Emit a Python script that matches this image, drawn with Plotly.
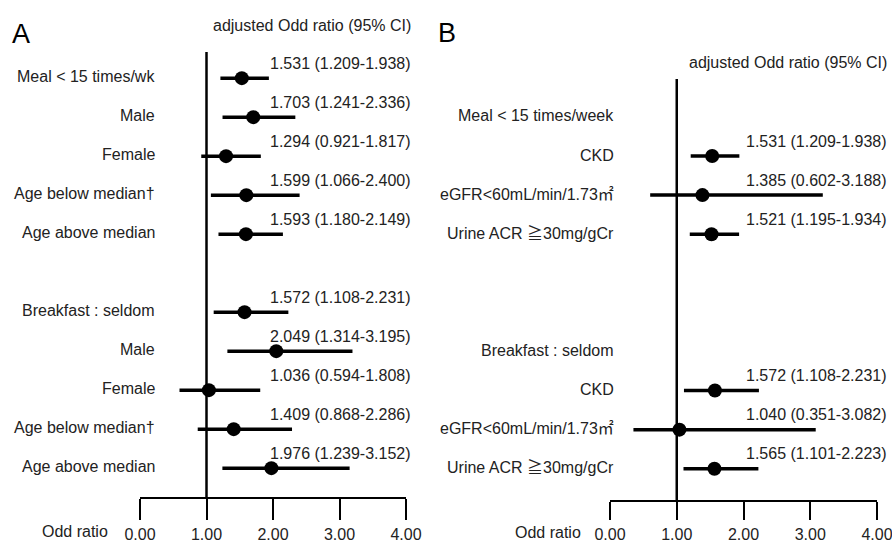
import plotly.graph_objects as go

# ---------------- data ----------------
# Panel A
labels_a = ["Meal < 15 times/wk", "Male", "Female", "Age below median†", "Age above median",
            "Breakfast : seldom", "Male", "Female", "Age below median†", "Age above median"]
or_a = [1.531, 1.703, 1.294, 1.599, 1.593, 1.572, 2.049, 1.036, 1.409, 1.976]
lo_a = [1.209, 1.241, 0.921, 1.066, 1.180, 1.108, 1.314, 0.594, 0.868, 1.239]
hi_a = [1.938, 2.336, 1.817, 2.400, 2.149, 2.231, 3.195, 1.808, 2.286, 3.152]
group_size_a = 5

# Panel B
headers_b = ["Meal < 15 times/week", "Breakfast : seldom"]
labels_b = ["CKD", "eGFR&lt;60mL/min/1.73㎡", "Urine ACR ≧30mg/gCr",
            "CKD", "eGFR&lt;60mL/min/1.73㎡", "Urine ACR ≧30mg/gCr"]
or_b = [1.531, 1.385, 1.521, 1.572, 1.040, 1.565]
lo_b = [1.209, 0.602, 1.195, 1.108, 0.351, 1.101]
hi_b = [1.938, 3.188, 1.934, 2.231, 3.082, 2.223]
group_size_b = 3

tick_vals = [0, 1, 2, 3, 4]
tick_text = ["0.00", "1.00", "2.00", "3.00", "4.00"]
header_text = "adjusted Odd ratio (95% CI)"
axis_title = "Odd ratio"

# ---------------- layout helpers ----------------
W, H = 892, 542
FONT = "Arial, 'Liberation Sans', 'Noto Sans CJK JP', sans-serif"

def px(x):
    return x / W

def py(y):
    return 1 - y / H

# row positions (panel A: one blank row between groups)
rows_a = [i if i < group_size_a else i + 1 for i in range(len(or_a))]
# panel B: header row, 3 items, two blank rows, header row, 3 items
rows_b_hdr = [0, group_size_b + 3]
rows_b = [rows_b_hdr[i // group_size_b] + 1 + (i % group_size_b) for i in range(len(or_b))]

fig = go.Figure()

def add_panel(xa, ya, ors, los, his, rows):
    fig.add_trace(go.Scatter(
        x=ors, y=rows, mode="markers", xaxis=xa, yaxis=ya,
        marker=dict(color="black", size=14),
        error_x=dict(type="data", symmetric=False,
                     array=[h - o for h, o in zip(his, ors)],
                     arrayminus=[o - l for o, l in zip(ors, los)],
                     color="black", thickness=3.5, width=0),
        showlegend=False, hoverinfo="skip", cliponaxis=False))

add_panel("x", "y", or_a, lo_a, hi_a, rows_a)
add_panel("x2", "y2", or_b, lo_b, hi_b, rows_b)

axis_common = dict(range=[0, 4], showgrid=False, zeroline=False, showline=True,
                   linecolor="black", linewidth=2, ticks="outside",
                   tickwidth=2, tickcolor="black", tickvals=tick_vals, ticktext=tick_text,
                   tickfont=dict(family=FONT, size=16, color="#222"),
                   ticklabelstandoff=1, ticklabeloverflow="allow",
                   fixedrange=True, automargin=False)

fig.update_layout(
    width=W, height=H, margin=dict(l=0, r=0, t=0, b=0, autoexpand=False),
    paper_bgcolor="white", plot_bgcolor="white",
    font=dict(family=FONT, size=16, color="#222"),
    xaxis=dict(domain=[px(140), px(406)], anchor="y", ticklen=21, **axis_common),
    yaxis=dict(domain=[py(497), py(52)], range=[10.74, -0.67], visible=False,
               anchor="x", fixedrange=True),
    xaxis2=dict(domain=[px(610), px(877)], anchor="y2", ticklen=18, **axis_common),
    yaxis2=dict(domain=[py(500), py(79)], range=[9.80, -0.97], visible=False,
                anchor="x2", fixedrange=True),
)

# reference line at OR = 1
for xr, yr in (("x", "y domain"), ("x2", "y2 domain")):
    fig.add_shape(type="line", xref=xr, yref=yr, x0=1, x1=1, y0=0, y1=1,
                  line=dict(color="black", width=2.5))

ann = []
# panel A labels and values
for lab, o, l, h, r in zip(labels_a, or_a, lo_a, hi_a, rows_a):
    ann.append(dict(text=lab, x=px(157), xref="paper", y=r, yref="y",
                    xanchor="right", yanchor="middle", showarrow=False, yshift=2))
    ann.append(dict(text=f"{o:.3f} ({l:.3f}-{h:.3f})", x=px(413), xref="paper", y=r, yref="y",
                    xanchor="right", yanchor="middle", showarrow=False, yshift=15))
# panel B headers, labels, values
for hd, r in zip(headers_b, rows_b_hdr):
    ann.append(dict(text=hd, x=px(616), xref="paper", y=r, yref="y2",
                    xanchor="right", yanchor="middle", showarrow=False, yshift=1))
for lab, o, l, h, r in zip(labels_b, or_b, lo_b, hi_b, rows_b):
    ann.append(dict(text=lab, x=px(616), xref="paper", y=r, yref="y2",
                    xanchor="right", yanchor="middle", showarrow=False, yshift=1))
    ann.append(dict(text=f"{o:.3f} ({l:.3f}-{h:.3f})", x=px(889), xref="paper", y=r, yref="y2",
                    xanchor="right", yanchor="middle", showarrow=False, yshift=15))

# headers
ann.append(dict(text=header_text, x=px(413), y=py(25), xref="paper", yref="paper",
                xanchor="right", yanchor="middle", showarrow=False))
ann.append(dict(text=header_text, x=px(889), y=py(63), xref="paper", yref="paper",
                xanchor="right", yanchor="middle", showarrow=False))
# panel letters
ann.append(dict(text="A", x=px(10), y=py(34), xref="paper", yref="paper",
                xanchor="left", yanchor="middle", showarrow=False, font=dict(size=27, color="black")))
ann.append(dict(text="B", x=px(436), y=py(33), xref="paper", yref="paper",
                xanchor="left", yanchor="middle", showarrow=False, font=dict(size=27, color="black")))
# axis titles
ann.append(dict(text=axis_title, x=px(110), y=py(531), xref="paper", yref="paper",
                xanchor="right", yanchor="middle", showarrow=False))
ann.append(dict(text=axis_title, x=px(583), y=py(532), xref="paper", yref="paper",
                xanchor="right", yanchor="middle", showarrow=False))

fig.update_layout(annotations=ann)

# remove the default 8px page margin so the figure fills the window exactly
page_fix = ("document.documentElement.style.margin='0';"
            "document.body.style.margin='0';"
            "document.documentElement.style.overflow='hidden';"
            "document.body.style.overflow='hidden';")
fig.write_html("out.html", post_script=page_fix, config={"displayModeBar": False})
